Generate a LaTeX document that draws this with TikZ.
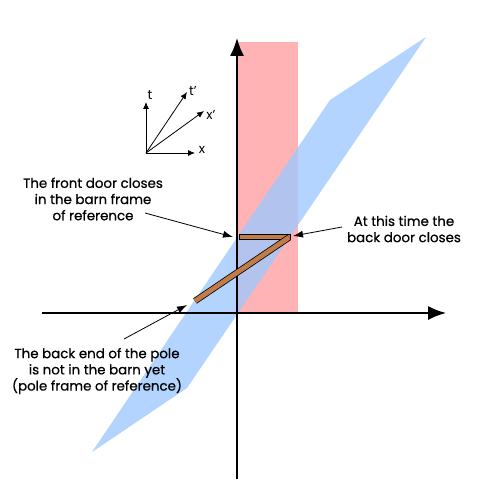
\documentclass[tikz,border=0pt]{standalone}
\usepackage{fontspec}
\setmainfont{Poppins}
\newfontfamily\notefont{Poppins}[FakeBold=0.6]
\usetikzlibrary{arrows.meta}
\definecolor{barnred}{RGB}{255,179,181}
\definecolor{poleblue}{RGB}{157,200,255}
\definecolor{polewood}{RGB}{194,124,74}
\tikzstyle{axis}=[draw,line width=1.6pt,-{Latex[length=18pt,width=14pt]}]
\tikzstyle{frame}=[draw,line width=0.8pt,-{Latex[length=7pt,width=6pt]}]
\tikzstyle{pointer}=[draw,line width=0.8pt,-{Latex[length=10pt,width=7pt]}]
\tikzstyle{note}=[align=center,inner sep=0pt,font=\notefont\fontsize{13.4}{16.2}\selectfont]
\tikzstyle{axlabel}=[inner sep=0pt,font=\fontsize{13}{15}\selectfont]
\tikzstyle{rod}=[draw=black,fill=polewood,line width=0.7pt]

\begin{document}
\begin{tikzpicture}[x=1pt,y=-1pt]
    \useasboundingbox (0,0) rectangle (500,500);

    % barn and pole world regions
    \fill[barnred] (237,42) rectangle (298,313);
    \fill[poleblue,opacity=0.78] (92,452) -- (187,388) -- (426,37) -- (330,100) -- cycle;

    % spacetime axes
    \coordinate (O) at (237,313);
    \coordinate (tTop) at (237,38);
    \coordinate (tBot) at (237,479);
    \coordinate (xLeft) at (42,313);
    \coordinate (xRight) at (446,313);
    \path[axis] (tBot) -- (tTop);
    \path[axis] (xLeft) -- (xRight);

    % the pole
    \path[rod] (239,234) rectangle (290,239.5);
    \coordinate (poleFront) at (289,237.5);
    \coordinate (poleBack) at (195,301);
    \draw[line width=6.4pt] (poleBack) -- (poleFront);
    \draw[line width=4.8pt,polewood] (poleBack) -- (poleFront);

    % small frame axes
    \coordinate (o) at (146,153);
    \foreach \x/\y/\name/\lx/\ly/\lab in {146/102/t/150/95/t, 195/153/x/202/150/x, 187/92/tp/193/91/t', 204/111/xp/211/115/x'}
    {
        \coordinate (\name) at (\x,\y);
        \node[axlabel] (lab\name) at (\lx,\ly) {\lab};
        \path[frame] (o) -- (\name);
    }

    % notes
    \node[note] (front) at (93,199) {The front door closes\\in the barn frame\\of reference};
    \node[note] (backdoor) at (404,229) {At this time the\\back door closes};
    \node[note] (backend) at (97,371) {The back end of the pole\\is not in the barn yet\\(pole frame of reference)};

    \coordinate (frontTail) at (145,213);
    \coordinate (frontTip) at (233,237);
    \coordinate (doorTail) at (342,227);
    \coordinate (doorTip) at (293,236);
    \coordinate (endTail) at (124,339);
    \coordinate (endTip) at (187,305);
    \path[pointer] (frontTail) -- (frontTip);
    \path[pointer] (doorTail) -- (doorTip);
    \path[pointer] (endTail) -- (endTip);

\end{tikzpicture}
\end{document}
